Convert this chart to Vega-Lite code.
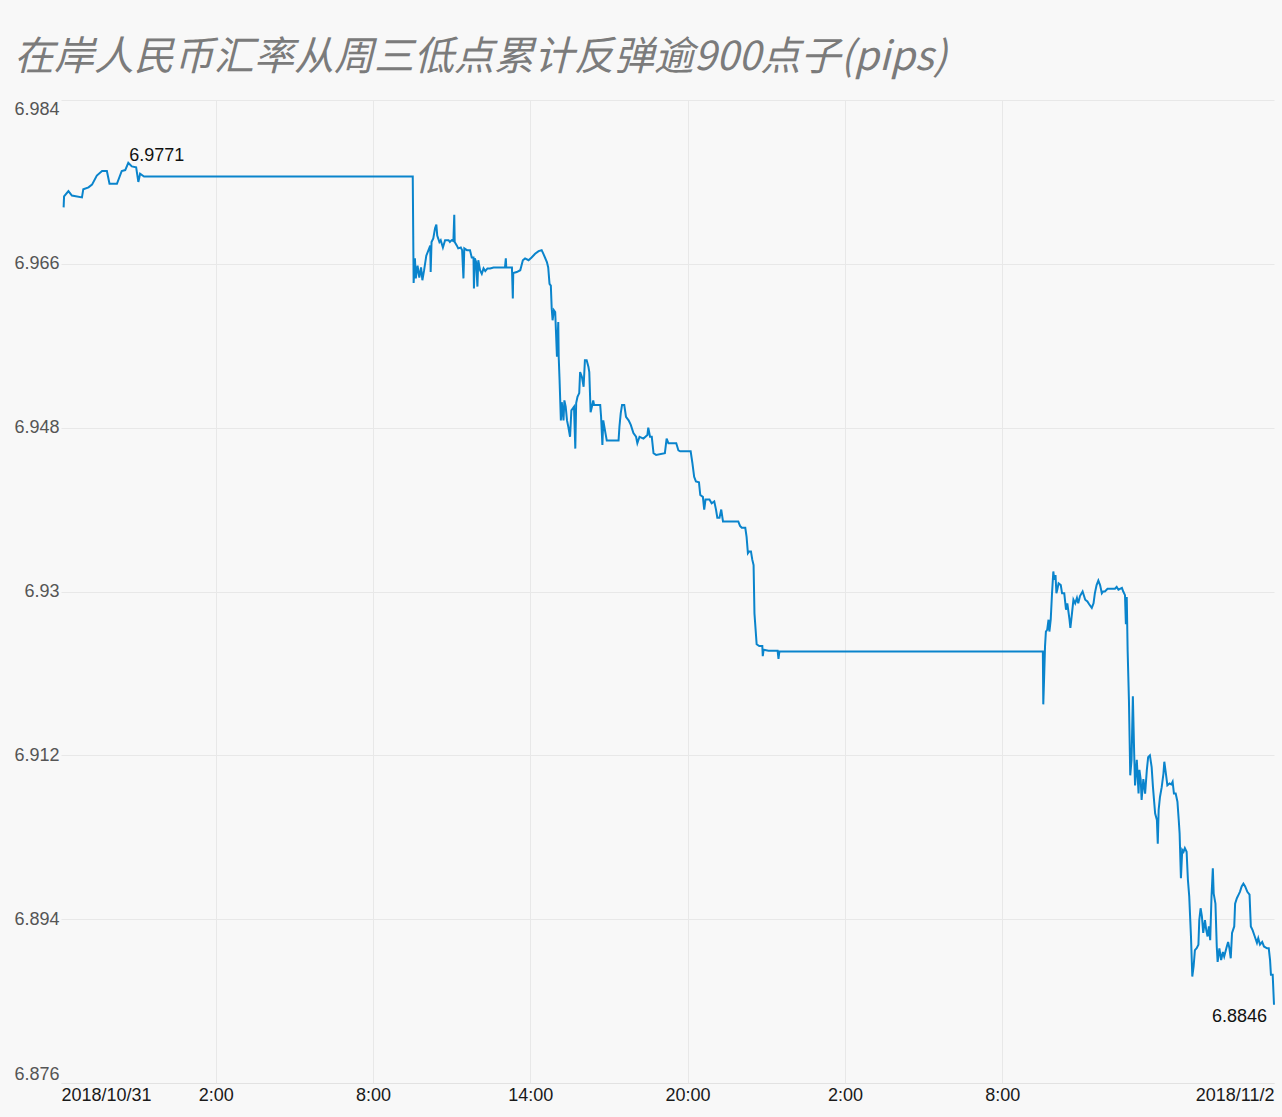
{
  "$schema": "https://vega.github.io/schema/vega-lite/v6.json",
  "width": 1213,
  "height": 983,
  "autosize": {"type": "none"},
  "padding": {"left": 61, "top": 100, "right": 8, "bottom": 34},
  "background": "#f8f8f8",
  "config": {"view": {"stroke": null}, "font": "Liberation Sans"},
  "title": {
    "text": "在岸人民币汇率从周三低点累计反弹逾900点子(pips)",
    "anchor": "start",
    "frame": "group",
    "dx": -47,
    "dy": 38,
    "offset": 20,
    "baseline": "bottom",
    "fontSize": 40,
    "font": "Noto Sans CJK SC",
    "fontStyle": "italic",
    "fontWeight": "normal",
    "color": "#7b7b7b"
  },
  "datasets": {
    "fx": [
      {"t": "2018-10-30T20:12", "v": 6.9722},
      {"t": "2018-10-30T20:13", "v": 6.9734},
      {"t": "2018-10-30T20:23", "v": 6.9740},
      {"t": "2018-10-30T20:31", "v": 6.9735},
      {"t": "2018-10-30T20:54", "v": 6.9733},
      {"t": "2018-10-30T20:57", "v": 6.9742},
      {"t": "2018-10-30T21:09", "v": 6.9744},
      {"t": "2018-10-30T21:17", "v": 6.9747},
      {"t": "2018-10-30T21:28", "v": 6.9757},
      {"t": "2018-10-30T21:40", "v": 6.9762},
      {"t": "2018-10-30T21:51", "v": 6.9762},
      {"t": "2018-10-30T21:57", "v": 6.9748},
      {"t": "2018-10-30T22:14", "v": 6.9748},
      {"t": "2018-10-30T22:25", "v": 6.9762},
      {"t": "2018-10-30T22:33", "v": 6.9763},
      {"t": "2018-10-30T22:40", "v": 6.9771},
      {"t": "2018-10-30T22:48", "v": 6.9767},
      {"t": "2018-10-30T22:58", "v": 6.9766},
      {"t": "2018-10-30T23:03", "v": 6.9750},
      {"t": "2018-10-30T23:07", "v": 6.9759},
      {"t": "2018-10-30T23:16", "v": 6.9756},
      {"t": "2018-10-31T09:31", "v": 6.9756},
      {"t": "2018-10-31T09:33", "v": 6.9639},
      {"t": "2018-10-31T09:36", "v": 6.9666},
      {"t": "2018-10-31T09:38", "v": 6.9644},
      {"t": "2018-10-31T09:42", "v": 6.9658},
      {"t": "2018-10-31T09:46", "v": 6.9645},
      {"t": "2018-10-31T09:50", "v": 6.9656},
      {"t": "2018-10-31T09:53", "v": 6.9642},
      {"t": "2018-10-31T09:57", "v": 6.9653},
      {"t": "2018-10-31T10:02", "v": 6.9669},
      {"t": "2018-10-31T10:07", "v": 6.9675},
      {"t": "2018-10-31T10:11", "v": 6.9680},
      {"t": "2018-10-31T10:12", "v": 6.9651},
      {"t": "2018-10-31T10:14", "v": 6.9684},
      {"t": "2018-10-31T10:18", "v": 6.9688},
      {"t": "2018-10-31T10:22", "v": 6.9699},
      {"t": "2018-10-31T10:25", "v": 6.9703},
      {"t": "2018-10-31T10:27", "v": 6.9691},
      {"t": "2018-10-31T10:32", "v": 6.9684},
      {"t": "2018-10-31T10:35", "v": 6.9686},
      {"t": "2018-10-31T10:40", "v": 6.9678},
      {"t": "2018-10-31T10:45", "v": 6.9686},
      {"t": "2018-10-31T10:53", "v": 6.9686},
      {"t": "2018-10-31T10:56", "v": 6.9684},
      {"t": "2018-10-31T11:00", "v": 6.9686},
      {"t": "2018-10-31T11:04", "v": 6.9685},
      {"t": "2018-10-31T11:06", "v": 6.9714},
      {"t": "2018-10-31T11:07", "v": 6.9684},
      {"t": "2018-10-31T11:12", "v": 6.9680},
      {"t": "2018-10-31T11:15", "v": 6.9677},
      {"t": "2018-10-31T11:21", "v": 6.9678},
      {"t": "2018-10-31T11:24", "v": 6.9675},
      {"t": "2018-10-31T11:27", "v": 6.9644},
      {"t": "2018-10-31T11:29", "v": 6.9677},
      {"t": "2018-10-31T11:35", "v": 6.9675},
      {"t": "2018-10-31T11:42", "v": 6.9675},
      {"t": "2018-10-31T11:46", "v": 6.9667},
      {"t": "2018-10-31T11:50", "v": 6.9667},
      {"t": "2018-10-31T11:51", "v": 6.9633},
      {"t": "2018-10-31T11:53", "v": 6.9666},
      {"t": "2018-10-31T11:56", "v": 6.9662},
      {"t": "2018-10-31T11:59", "v": 6.9635},
      {"t": "2018-10-31T12:01", "v": 6.9664},
      {"t": "2018-10-31T12:05", "v": 6.9653},
      {"t": "2018-10-31T12:09", "v": 6.9649},
      {"t": "2018-10-31T12:13", "v": 6.9655},
      {"t": "2018-10-31T12:17", "v": 6.9652},
      {"t": "2018-10-31T12:22", "v": 6.9655},
      {"t": "2018-10-31T12:28", "v": 6.9655},
      {"t": "2018-10-31T12:36", "v": 6.9656},
      {"t": "2018-10-31T13:02", "v": 6.9656},
      {"t": "2018-10-31T13:04", "v": 6.9666},
      {"t": "2018-10-31T13:05", "v": 6.9656},
      {"t": "2018-10-31T13:18", "v": 6.9656},
      {"t": "2018-10-31T13:20", "v": 6.9622},
      {"t": "2018-10-31T13:21", "v": 6.9650},
      {"t": "2018-10-31T13:29", "v": 6.9651},
      {"t": "2018-10-31T13:37", "v": 6.9653},
      {"t": "2018-10-31T13:43", "v": 6.9664},
      {"t": "2018-10-31T13:48", "v": 6.9666},
      {"t": "2018-10-31T13:56", "v": 6.9664},
      {"t": "2018-10-31T14:03", "v": 6.9667},
      {"t": "2018-10-31T14:11", "v": 6.9671},
      {"t": "2018-10-31T14:19", "v": 6.9674},
      {"t": "2018-10-31T14:26", "v": 6.9675},
      {"t": "2018-10-31T14:30", "v": 6.9671},
      {"t": "2018-10-31T14:38", "v": 6.9662},
      {"t": "2018-10-31T14:41", "v": 6.9656},
      {"t": "2018-10-31T14:44", "v": 6.9638},
      {"t": "2018-10-31T14:47", "v": 6.9636},
      {"t": "2018-10-31T14:49", "v": 6.9611},
      {"t": "2018-10-31T14:51", "v": 6.9598},
      {"t": "2018-10-31T14:54", "v": 6.9609},
      {"t": "2018-10-31T14:57", "v": 6.9607},
      {"t": "2018-10-31T15:01", "v": 6.9558},
      {"t": "2018-10-31T15:04", "v": 6.9596},
      {"t": "2018-10-31T15:05", "v": 6.9558},
      {"t": "2018-10-31T15:07", "v": 6.9532},
      {"t": "2018-10-31T15:10", "v": 6.9488},
      {"t": "2018-10-31T15:12", "v": 6.9508},
      {"t": "2018-10-31T15:16", "v": 6.9488},
      {"t": "2018-10-31T15:18", "v": 6.9510},
      {"t": "2018-10-31T15:21", "v": 6.9503},
      {"t": "2018-10-31T15:24", "v": 6.9488},
      {"t": "2018-10-31T15:27", "v": 6.9481},
      {"t": "2018-10-31T15:31", "v": 6.9470},
      {"t": "2018-10-31T15:34", "v": 6.9499},
      {"t": "2018-10-31T15:37", "v": 6.9501},
      {"t": "2018-10-31T15:40", "v": 6.9503},
      {"t": "2018-10-31T15:43", "v": 6.9457},
      {"t": "2018-10-31T15:45", "v": 6.9507},
      {"t": "2018-10-31T15:48", "v": 6.9514},
      {"t": "2018-10-31T15:52", "v": 6.9518},
      {"t": "2018-10-31T15:54", "v": 6.9541},
      {"t": "2018-10-31T15:58", "v": 6.9536},
      {"t": "2018-10-31T16:02", "v": 6.9525},
      {"t": "2018-10-31T16:05", "v": 6.9554},
      {"t": "2018-10-31T16:09", "v": 6.9554},
      {"t": "2018-10-31T16:13", "v": 6.9547},
      {"t": "2018-10-31T16:15", "v": 6.9541},
      {"t": "2018-10-31T16:18", "v": 6.9497},
      {"t": "2018-10-31T16:21", "v": 6.9503},
      {"t": "2018-10-31T16:24", "v": 6.9510},
      {"t": "2018-10-31T16:26", "v": 6.9505},
      {"t": "2018-10-31T16:40", "v": 6.9505},
      {"t": "2018-10-31T16:42", "v": 6.9492},
      {"t": "2018-10-31T16:45", "v": 6.9461},
      {"t": "2018-10-31T16:47", "v": 6.9488},
      {"t": "2018-10-31T16:52", "v": 6.9474},
      {"t": "2018-10-31T16:55", "v": 6.9466},
      {"t": "2018-10-31T17:22", "v": 6.9466},
      {"t": "2018-10-31T17:24", "v": 6.9481},
      {"t": "2018-10-31T17:27", "v": 6.9496},
      {"t": "2018-10-31T17:30", "v": 6.9505},
      {"t": "2018-10-31T17:35", "v": 6.9505},
      {"t": "2018-10-31T17:39", "v": 6.9492},
      {"t": "2018-10-31T17:45", "v": 6.9488},
      {"t": "2018-10-31T17:50", "v": 6.9483},
      {"t": "2018-10-31T17:56", "v": 6.9474},
      {"t": "2018-10-31T18:02", "v": 6.9470},
      {"t": "2018-10-31T18:05", "v": 6.9463},
      {"t": "2018-10-31T18:10", "v": 6.9470},
      {"t": "2018-10-31T18:19", "v": 6.9468},
      {"t": "2018-10-31T18:28", "v": 6.9472},
      {"t": "2018-10-31T18:30", "v": 6.9480},
      {"t": "2018-10-31T18:34", "v": 6.9470},
      {"t": "2018-10-31T18:38", "v": 6.9470},
      {"t": "2018-10-31T18:42", "v": 6.9452},
      {"t": "2018-10-31T18:48", "v": 6.9450},
      {"t": "2018-10-31T19:08", "v": 6.9452},
      {"t": "2018-10-31T19:12", "v": 6.9468},
      {"t": "2018-10-31T19:16", "v": 6.9463},
      {"t": "2018-10-31T19:34", "v": 6.9463},
      {"t": "2018-10-31T19:39", "v": 6.9455},
      {"t": "2018-10-31T19:43", "v": 6.9454},
      {"t": "2018-10-31T20:07", "v": 6.9454},
      {"t": "2018-10-31T20:11", "v": 6.9441},
      {"t": "2018-10-31T20:15", "v": 6.9426},
      {"t": "2018-10-31T20:19", "v": 6.9421},
      {"t": "2018-10-31T20:26", "v": 6.9420},
      {"t": "2018-10-31T20:29", "v": 6.9406},
      {"t": "2018-10-31T20:35", "v": 6.9404},
      {"t": "2018-10-31T20:38", "v": 6.9390},
      {"t": "2018-10-31T20:41", "v": 6.9401},
      {"t": "2018-10-31T20:50", "v": 6.9401},
      {"t": "2018-10-31T20:55", "v": 6.9397},
      {"t": "2018-10-31T21:01", "v": 6.9399},
      {"t": "2018-10-31T21:05", "v": 6.9390},
      {"t": "2018-10-31T21:08", "v": 6.9381},
      {"t": "2018-10-31T21:13", "v": 6.9381},
      {"t": "2018-10-31T21:17", "v": 6.9390},
      {"t": "2018-10-31T21:21", "v": 6.9377},
      {"t": "2018-10-31T21:56", "v": 6.9377},
      {"t": "2018-10-31T22:00", "v": 6.9372},
      {"t": "2018-10-31T22:04", "v": 6.9370},
      {"t": "2018-10-31T22:12", "v": 6.9370},
      {"t": "2018-10-31T22:15", "v": 6.9360},
      {"t": "2018-10-31T22:18", "v": 6.9342},
      {"t": "2018-10-31T22:21", "v": 6.9344},
      {"t": "2018-10-31T22:25", "v": 6.9344},
      {"t": "2018-10-31T22:28", "v": 6.9335},
      {"t": "2018-10-31T22:31", "v": 6.9329},
      {"t": "2018-10-31T22:33", "v": 6.9276},
      {"t": "2018-10-31T22:38", "v": 6.9242},
      {"t": "2018-10-31T22:44", "v": 6.9240},
      {"t": "2018-10-31T22:51", "v": 6.9240},
      {"t": "2018-10-31T22:52", "v": 6.9229},
      {"t": "2018-10-31T22:54", "v": 6.9236},
      {"t": "2018-10-31T23:05", "v": 6.9235},
      {"t": "2018-10-31T23:26", "v": 6.9235},
      {"t": "2018-10-31T23:28", "v": 6.9226},
      {"t": "2018-10-31T23:30", "v": 6.9234},
      {"t": "2018-11-01T09:33", "v": 6.9234},
      {"t": "2018-11-01T09:34", "v": 6.9176},
      {"t": "2018-11-01T09:36", "v": 6.9207},
      {"t": "2018-11-01T09:38", "v": 6.9240},
      {"t": "2018-11-01T09:40", "v": 6.9256},
      {"t": "2018-11-01T09:43", "v": 6.9258},
      {"t": "2018-11-01T09:46", "v": 6.9269},
      {"t": "2018-11-01T09:48", "v": 6.9256},
      {"t": "2018-11-01T09:51", "v": 6.9269},
      {"t": "2018-11-01T09:54", "v": 6.9298},
      {"t": "2018-11-01T09:57", "v": 6.9322},
      {"t": "2018-11-01T09:59", "v": 6.9313},
      {"t": "2018-11-01T10:02", "v": 6.9318},
      {"t": "2018-11-01T10:04", "v": 6.9298},
      {"t": "2018-11-01T10:06", "v": 6.9302},
      {"t": "2018-11-01T10:09", "v": 6.9309},
      {"t": "2018-11-01T10:14", "v": 6.9307},
      {"t": "2018-11-01T10:17", "v": 6.9298},
      {"t": "2018-11-01T10:22", "v": 6.9298},
      {"t": "2018-11-01T10:26", "v": 6.9280},
      {"t": "2018-11-01T10:29", "v": 6.9287},
      {"t": "2018-11-01T10:34", "v": 6.9269},
      {"t": "2018-11-01T10:36", "v": 6.9260},
      {"t": "2018-11-01T10:39", "v": 6.9273},
      {"t": "2018-11-01T10:43", "v": 6.9291},
      {"t": "2018-11-01T10:47", "v": 6.9287},
      {"t": "2018-11-01T10:51", "v": 6.9293},
      {"t": "2018-11-01T10:54", "v": 6.9287},
      {"t": "2018-11-01T10:58", "v": 6.9295},
      {"t": "2018-11-01T11:04", "v": 6.9300},
      {"t": "2018-11-01T11:10", "v": 6.9291},
      {"t": "2018-11-01T11:15", "v": 6.9289},
      {"t": "2018-11-01T11:19", "v": 6.9286},
      {"t": "2018-11-01T11:25", "v": 6.9282},
      {"t": "2018-11-01T11:29", "v": 6.9287},
      {"t": "2018-11-01T11:32", "v": 6.9298},
      {"t": "2018-11-01T11:36", "v": 6.9307},
      {"t": "2018-11-01T11:40", "v": 6.9312},
      {"t": "2018-11-01T11:44", "v": 6.9307},
      {"t": "2018-11-01T11:48", "v": 6.9298},
      {"t": "2018-11-01T11:51", "v": 6.9300},
      {"t": "2018-11-01T11:55", "v": 6.9300},
      {"t": "2018-11-01T12:01", "v": 6.9303},
      {"t": "2018-11-01T12:18", "v": 6.9303},
      {"t": "2018-11-01T12:22", "v": 6.9305},
      {"t": "2018-11-01T12:26", "v": 6.9302},
      {"t": "2018-11-01T12:34", "v": 6.9304},
      {"t": "2018-11-01T12:37", "v": 6.9300},
      {"t": "2018-11-01T12:41", "v": 6.9296},
      {"t": "2018-11-01T12:43", "v": 6.9264},
      {"t": "2018-11-01T12:45", "v": 6.9294},
      {"t": "2018-11-01T12:47", "v": 6.9236},
      {"t": "2018-11-01T12:50", "v": 6.9181},
      {"t": "2018-11-01T12:53", "v": 6.9098},
      {"t": "2018-11-01T12:56", "v": 6.9115},
      {"t": "2018-11-01T12:59", "v": 6.9185},
      {"t": "2018-11-01T13:02", "v": 6.9122},
      {"t": "2018-11-01T13:04", "v": 6.9087},
      {"t": "2018-11-01T13:08", "v": 6.9115},
      {"t": "2018-11-01T13:12", "v": 6.9078},
      {"t": "2018-11-01T13:14", "v": 6.9104},
      {"t": "2018-11-01T13:17", "v": 6.9093},
      {"t": "2018-11-01T13:19", "v": 6.9071},
      {"t": "2018-11-01T13:23", "v": 6.9094},
      {"t": "2018-11-01T13:27", "v": 6.9078},
      {"t": "2018-11-01T13:31", "v": 6.9104},
      {"t": "2018-11-01T13:34", "v": 6.9118},
      {"t": "2018-11-01T13:38", "v": 6.9120},
      {"t": "2018-11-01T13:42", "v": 6.9107},
      {"t": "2018-11-01T13:45", "v": 6.9085},
      {"t": "2018-11-01T13:50", "v": 6.9056},
      {"t": "2018-11-01T13:54", "v": 6.9049},
      {"t": "2018-11-01T13:56", "v": 6.9023},
      {"t": "2018-11-01T13:58", "v": 6.9060},
      {"t": "2018-11-01T14:01", "v": 6.9074},
      {"t": "2018-11-01T14:05", "v": 6.9085},
      {"t": "2018-11-01T14:09", "v": 6.9100},
      {"t": "2018-11-01T14:11", "v": 6.9113},
      {"t": "2018-11-01T14:14", "v": 6.9102},
      {"t": "2018-11-01T14:18", "v": 6.9087},
      {"t": "2018-11-01T14:23", "v": 6.9089},
      {"t": "2018-11-01T14:27", "v": 6.9088},
      {"t": "2018-11-01T14:30", "v": 6.9091},
      {"t": "2018-11-01T14:33", "v": 6.9078},
      {"t": "2018-11-01T14:37", "v": 6.9078},
      {"t": "2018-11-01T14:41", "v": 6.9069},
      {"t": "2018-11-01T14:44", "v": 6.9049},
      {"t": "2018-11-01T14:46", "v": 6.9034},
      {"t": "2018-11-01T14:49", "v": 6.8985},
      {"t": "2018-11-01T14:52", "v": 6.9016},
      {"t": "2018-11-01T14:55", "v": 6.9014},
      {"t": "2018-11-01T14:58", "v": 6.9018},
      {"t": "2018-11-01T15:02", "v": 6.9014},
      {"t": "2018-11-01T15:05", "v": 6.8983},
      {"t": "2018-11-01T15:08", "v": 6.8965},
      {"t": "2018-11-01T15:12", "v": 6.8921},
      {"t": "2018-11-01T15:15", "v": 6.8877},
      {"t": "2018-11-01T15:18", "v": 6.8888},
      {"t": "2018-11-01T15:21", "v": 6.8906},
      {"t": "2018-11-01T15:25", "v": 6.8908},
      {"t": "2018-11-01T15:29", "v": 6.8912},
      {"t": "2018-11-01T15:31", "v": 6.8939},
      {"t": "2018-11-01T15:34", "v": 6.8952},
      {"t": "2018-11-01T15:37", "v": 6.8943},
      {"t": "2018-11-01T15:40", "v": 6.8925},
      {"t": "2018-11-01T15:44", "v": 6.8939},
      {"t": "2018-11-01T15:47", "v": 6.8928},
      {"t": "2018-11-01T15:50", "v": 6.8921},
      {"t": "2018-11-01T15:53", "v": 6.8932},
      {"t": "2018-11-01T15:56", "v": 6.8917},
      {"t": "2018-11-01T15:59", "v": 6.8965},
      {"t": "2018-11-01T16:02", "v": 6.8996},
      {"t": "2018-11-01T16:04", "v": 6.8968},
      {"t": "2018-11-01T16:08", "v": 6.8957},
      {"t": "2018-11-01T16:11", "v": 6.8910},
      {"t": "2018-11-01T16:13", "v": 6.8893},
      {"t": "2018-11-01T16:17", "v": 6.8908},
      {"t": "2018-11-01T16:21", "v": 6.8895},
      {"t": "2018-11-01T16:25", "v": 6.8904},
      {"t": "2018-11-01T16:28", "v": 6.8899},
      {"t": "2018-11-01T16:34", "v": 6.8910},
      {"t": "2018-11-01T16:37", "v": 6.8915},
      {"t": "2018-11-01T16:40", "v": 6.8908},
      {"t": "2018-11-01T16:43", "v": 6.8897},
      {"t": "2018-11-01T16:46", "v": 6.8925},
      {"t": "2018-11-01T16:51", "v": 6.8932},
      {"t": "2018-11-01T16:53", "v": 6.8957},
      {"t": "2018-11-01T16:57", "v": 6.8963},
      {"t": "2018-11-01T17:01", "v": 6.8967},
      {"t": "2018-11-01T17:04", "v": 6.8970},
      {"t": "2018-11-01T17:08", "v": 6.8976},
      {"t": "2018-11-01T17:12", "v": 6.8979},
      {"t": "2018-11-01T17:16", "v": 6.8976},
      {"t": "2018-11-01T17:21", "v": 6.8970},
      {"t": "2018-11-01T17:26", "v": 6.8967},
      {"t": "2018-11-01T17:29", "v": 6.8932},
      {"t": "2018-11-01T17:33", "v": 6.8928},
      {"t": "2018-11-01T17:38", "v": 6.8921},
      {"t": "2018-11-01T17:43", "v": 6.8914},
      {"t": "2018-11-01T17:46", "v": 6.8919},
      {"t": "2018-11-01T17:50", "v": 6.8912},
      {"t": "2018-11-01T17:55", "v": 6.8915},
      {"t": "2018-11-01T17:59", "v": 6.8910},
      {"t": "2018-11-01T18:06", "v": 6.8908},
      {"t": "2018-11-01T18:10", "v": 6.8908},
      {"t": "2018-11-01T18:13", "v": 6.8895},
      {"t": "2018-11-01T18:15", "v": 6.8879},
      {"t": "2018-11-01T18:19", "v": 6.8879},
      {"t": "2018-11-01T18:22", "v": 6.8846}
    ],
    "peak": [{"t": "2018-10-30T22:40", "v": 6.9771}],
    "last": [{"t": "2018-11-01T18:22", "v": 6.8846}]
  },
  "layer": [
    {
      "data": {"name": "fx"},
      "mark": {"type": "line", "color": "#0a84cc", "strokeWidth": 2, "interpolate": "linear"},
      "encoding": {
        "x": {
          "field": "t",
          "type": "temporal",
          "scale": {"domain": [
            {"year": 2018, "month": 10, "date": 30, "hours": 20, "minutes": 6},
            {"year": 2018, "month": 11, "date": 1, "hours": 18, "minutes": 22}
          ]},
          "axis": {
            "title": null,
            "values": [
              {"year": 2018, "month": 10, "date": 30, "hours": 20, "minutes": 6},
              {"year": 2018, "month": 10, "date": 31, "hours": 2},
              {"year": 2018, "month": 10, "date": 31, "hours": 8},
              {"year": 2018, "month": 10, "date": 31, "hours": 14},
              {"year": 2018, "month": 10, "date": 31, "hours": 20},
              {"year": 2018, "month": 11, "date": 1, "hours": 2},
              {"year": 2018, "month": 11, "date": 1, "hours": 8},
              {"year": 2018, "month": 11, "date": 1, "hours": 18, "minutes": 22}
            ],
            "labelExpr": "datum.index == 0 ? '2018/10/31' : datum.index == 1 ? '2018/11/2' : timeFormat(datum.value, '%-H:%M')",
            "labelFlush": true,
            "labelOverlap": false,
            "ticks": false,
            "domainColor": "#e2e2e2",
            "gridColor": {"condition": {"test": "datum.value < datetime(2018,9,30,23,0) || datum.value > datetime(2018,10,1,18,0)", "value": "transparent"}, "value": "#e8e8e8"},
            "labelFontSize": 18,
            "labelColor": "#1a1a1a",
            "labelFont": "Liberation Sans",
            "labelPadding": 3
          }
        },
        "y": {
          "field": "v",
          "type": "quantitative",
          "scale": {"domain": [6.876, 6.984], "nice": false, "zero": false},
          "axis": {
            "title": null,
            "values": [6.876, 6.894, 6.912, 6.93, 6.948, 6.966, 6.984],
            "labelExpr": "format(datum.value, '.4~g')",
            "labelFlush": true,
            "domain": false,
            "ticks": false,
            "gridColor": "#e8e8e8",
            "labelFontSize": 18,
            "labelColor": "#555555",
            "labelFont": "Liberation Sans",
            "labelPadding": 2
          }
        }
      }
    },
    {
      "data": {"name": "peak"},
      "mark": {"type": "text", "align": "left", "baseline": "alphabetic", "dx": 1, "dy": -2, "fontSize": 18, "font": "Liberation Sans", "color": "#111111"},
      "encoding": {
        "x": {"field": "t", "type": "temporal"},
        "y": {"field": "v", "type": "quantitative"},
        "text": {"field": "v", "type": "quantitative", "format": ".4f"}
      }
    },
    {
      "data": {"name": "last"},
      "mark": {"type": "text", "align": "right", "baseline": "top", "dx": -7, "dy": 3, "fontSize": 18, "font": "Liberation Sans", "color": "#111111"},
      "encoding": {
        "x": {"field": "t", "type": "temporal"},
        "y": {"field": "v", "type": "quantitative"},
        "text": {"field": "v", "type": "quantitative", "format": ".4f"}
      }
    }
  ]
}
